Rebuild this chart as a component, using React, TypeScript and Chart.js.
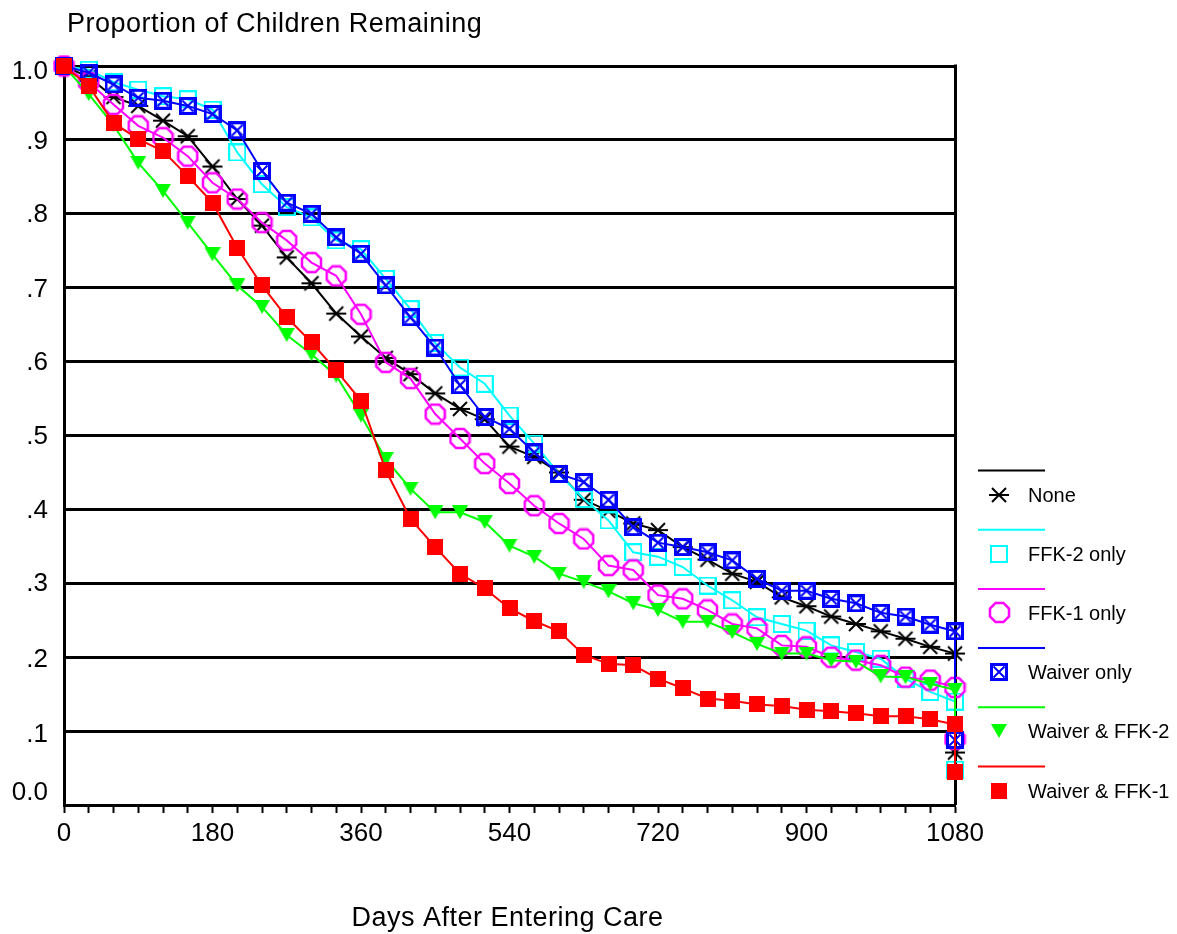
import React, { useEffect, useRef } from 'react';
import { Chart, registerables } from 'chart.js';

Chart.register(...registerables);

// ---- Data ----
const DAYS = [0, 30, 60, 90, 120, 150, 180, 210, 240, 270, 300, 330, 360, 390, 420, 450, 480, 510, 540, 570, 600, 630, 660, 690, 720, 750, 780, 810, 840, 870, 900, 930, 960, 990, 1020, 1050, 1080, 1080];

const NONE = [1.0, 0.985, 0.958, 0.946, 0.926, 0.905, 0.864, 0.820, 0.784, 0.741, 0.706, 0.665, 0.634, 0.605, 0.583, 0.557, 0.536, 0.522, 0.485, 0.471, 0.450, 0.413, 0.398, 0.381, 0.372, 0.349, 0.332, 0.313, 0.302, 0.281, 0.269, 0.255, 0.245, 0.235, 0.225, 0.214, 0.205, 0.071];
const FFK2_ONLY = [1.0, 0.995, 0.978, 0.968, 0.959, 0.955, 0.941, 0.883, 0.840, 0.809, 0.795, 0.764, 0.752, 0.712, 0.671, 0.625, 0.592, 0.570, 0.527, 0.489, 0.448, 0.414, 0.385, 0.342, 0.336, 0.322, 0.297, 0.277, 0.254, 0.245, 0.236, 0.216, 0.207, 0.198, 0.171, 0.153, 0.140, 0.048];
const FFK1_ONLY = [1.0, 0.978, 0.948, 0.919, 0.903, 0.878, 0.842, 0.820, 0.788, 0.764, 0.734, 0.716, 0.664, 0.599, 0.577, 0.529, 0.496, 0.462, 0.435, 0.405, 0.381, 0.360, 0.324, 0.318, 0.284, 0.279, 0.264, 0.245, 0.239, 0.216, 0.214, 0.200, 0.196, 0.189, 0.173, 0.169, 0.159, 0.089];
const WAIVER_ONLY = [1.0, 0.991, 0.975, 0.957, 0.953, 0.946, 0.935, 0.913, 0.858, 0.815, 0.800, 0.768, 0.746, 0.703, 0.660, 0.619, 0.568, 0.525, 0.509, 0.477, 0.448, 0.437, 0.413, 0.376, 0.355, 0.349, 0.342, 0.331, 0.306, 0.290, 0.290, 0.279, 0.273, 0.260, 0.255, 0.244, 0.235, 0.088];
const WAIVER_FFK2 = [1.0, 0.962, 0.920, 0.869, 0.831, 0.788, 0.745, 0.703, 0.674, 0.636, 0.610, 0.581, 0.527, 0.468, 0.428, 0.396, 0.396, 0.383, 0.351, 0.336, 0.313, 0.302, 0.289, 0.273, 0.264, 0.248, 0.248, 0.234, 0.218, 0.205, 0.205, 0.196, 0.194, 0.174, 0.173, 0.164, 0.156, 0.105];
const WAIVER_FFK1 = [1.0, 0.973, 0.923, 0.901, 0.885, 0.851, 0.815, 0.754, 0.703, 0.660, 0.626, 0.588, 0.547, 0.453, 0.387, 0.349, 0.313, 0.293, 0.266, 0.249, 0.235, 0.203, 0.191, 0.189, 0.171, 0.158, 0.144, 0.141, 0.136, 0.134, 0.129, 0.127, 0.124, 0.120, 0.120, 0.116, 0.109, 0.044];

const SERIES_NAMES = ['None', 'FFK-2 only', 'FFK-1 only', 'Waiver only', 'Waiver & FFK-2', 'Waiver & FFK-1'];
const X_TICK_LABELS = [0, 180, 360, 540, 720, 900, 1080];
const Y_TICK_VALUES = [0, 0.1, 0.2, 0.3, 0.4, 0.5, 0.6, 0.7, 0.8, 0.9, 1.0];
const Y_TICK_LABELS = ['0.0', '.1', '.2', '.3', '.4', '.5', '.6', '.7', '.8', '.9', '1.0'];
const CHART_TITLE = 'Proportion of Children Remaining';
const X_TITLE = 'Days After Entering Care';

// ---- Styles ----
const SERIES = [NONE, FFK2_ONLY, FFK1_ONLY, WAIVER_ONLY, WAIVER_FFK2, WAIVER_FFK1];
const COLORS = ['#000000', '#00FFFF', '#FF00FF', '#0000FF', '#00FF00', '#FF0000'];
const MARKER_KINDS = ['asterisk', 'square', 'octagon', 'boxx', 'tri', 'fsquare'];
const Y_LABEL_SHIFT = [-12, 4, 3, 1, 1, 1, 1, 2, 1, 2, 6];
const FONT = '"Liberation Sans", Arial, Helvetica, sans-serif';

function makeMarker(kind: string, color: string): HTMLCanvasElement {
  const c = document.createElement('canvas');
  let w = 18, h = 18;
  if (kind === 'asterisk') { w = 22; h = 18; }
  if (kind === 'octagon') { w = 23; h = 23; }
  if (kind === 'tri') { w = 16; h = 14; }
  if (kind === 'fsquare') { w = 16; h = 16; }
  c.width = w; c.height = h;
  const ctx = c.getContext('2d')!;
  ctx.strokeStyle = color;
  ctx.fillStyle = color;
  if (kind === 'asterisk') {
    ctx.lineWidth = 2;
    ctx.beginPath();
    ctx.moveTo(1, 9); ctx.lineTo(21, 9);
    ctx.moveTo(4, 2); ctx.lineTo(18, 16);
    ctx.moveTo(18, 2); ctx.lineTo(4, 16);
    ctx.stroke();
  } else if (kind === 'square') {
    ctx.lineWidth = 2;
    ctx.strokeRect(1, 1, 16, 16);
  } else if (kind === 'octagon') {
    ctx.lineWidth = 2.5;
    ctx.beginPath();
    const r = 10.3;
    for (let k = 0; k < 8; k++) {
      const a = Math.PI / 8 + (k * Math.PI) / 4;
      const px = 11.5 + r * Math.cos(a);
      const py = 11.5 + r * Math.sin(a);
      if (k === 0) ctx.moveTo(px, py); else ctx.lineTo(px, py);
    }
    ctx.closePath();
    ctx.stroke();
  } else if (kind === 'boxx') {
    ctx.lineWidth = 3;
    ctx.strokeRect(1.5, 1.5, 15, 15);
    ctx.lineWidth = 2;
    ctx.beginPath();
    ctx.moveTo(3.5, 3.5); ctx.lineTo(14.5, 14.5);
    ctx.moveTo(14.5, 3.5); ctx.lineTo(3.5, 14.5);
    ctx.stroke();
  } else if (kind === 'tri') {
    ctx.beginPath();
    ctx.moveTo(0, 0); ctx.lineTo(16, 0); ctx.lineTo(8, 14);
    ctx.closePath();
    ctx.fill();
  } else {
    ctx.fillRect(0, 0, 16, 16);
  }
  return c;
}

export default function App() {
  const ref = useRef<HTMLCanvasElement>(null);

  useEffect(() => {
    const canvas = ref.current!;
    const markers = MARKER_KINDS.map((k, i) => makeMarker(k, COLORS[i]));

    const decor = {
      id: 'decor',
      beforeDatasetsDraw(chart: any) {
        const { ctx, chartArea } = chart;
        ctx.save();
        ctx.strokeStyle = '#000';
        ctx.lineWidth = 3;
        ctx.beginPath();
        ctx.moveTo(chartArea.right + 0.5, chartArea.top - 1.5);
        ctx.lineTo(chartArea.right + 0.5, chartArea.bottom);
        ctx.stroke();
        ctx.restore();
      },
      afterDraw(chart: any) {
        const { ctx, chartArea } = chart;
        const yScale = chart.scales.y;
        ctx.save();
        ctx.fillStyle = '#000';

        // y tick labels
        ctx.font = `26px ${FONT}`;
        ctx.textAlign = 'right';
        ctx.textBaseline = 'middle';
        Y_TICK_VALUES.forEach((v, i) => {
          const py = yScale.getPixelForValue(v) + Y_LABEL_SHIFT[i];
          ctx.fillText(Y_TICK_LABELS[i], chartArea.left - 16, py);
        });

        ctx.textBaseline = 'alphabetic';
        ctx.font = `27px ${FONT}`;
        (ctx as any).letterSpacing = '0.5px';
        ctx.textAlign = 'left';
        ctx.fillText(CHART_TITLE, chartArea.left + 3, 32);
        ctx.textAlign = 'center';
        ctx.fillText(X_TITLE, (chartArea.left + chartArea.right) / 2 - 2, 926);
        (ctx as any).letterSpacing = '0px';

        // legend
        const lx0 = chartArea.right + 23;
        const lx1 = chartArea.right + 90;
        for (let i = 0; i < SERIES_NAMES.length; i++) {
          const ly = 470.5 + i * 59.2;
          ctx.strokeStyle = COLORS[i];
          ctx.lineWidth = 2;
          ctx.beginPath();
          ctx.moveTo(lx0, ly);
          ctx.lineTo(lx1, ly);
          ctx.stroke();
          const m = markers[i];
          ctx.drawImage(m, Math.round(lx0 + 21 - m.width / 2), Math.round(ly + 24 - m.height / 2));
          ctx.fillStyle = '#000';
          ctx.font = `20px ${FONT}`;
          ctx.textAlign = 'left';
          ctx.textBaseline = 'middle';
          ctx.fillText(SERIES_NAMES[i], lx0 + 50, ly + 25.5);
        }
        ctx.restore();
      },
    };

    const datasets = SERIES.map((vals, i) => ({
      label: SERIES_NAMES[i],
      data: DAYS.map((d, j) => ({ x: d, y: vals[j] })),
      borderColor: COLORS[i],
      backgroundColor: COLORS[i],
      borderWidth: 2,
      pointStyle: markers[i] as any,
      pointRadius: 8,
      pointHoverRadius: 8,
      pointBorderWidth: 0,
      tension: 0,
      clip: false as any,
      order: SERIES.length - i,
    }));

    const chart = new Chart(canvas, {
      type: 'line',
      data: { datasets },
      options: {
        animation: false,
        responsive: true,
        maintainAspectRatio: false,
        events: [],
        layout: { padding: { top: 66, right: 222, left: 0, bottom: 0 } },
        plugins: {
          legend: { display: false },
          tooltip: { enabled: false },
          title: { display: false },
        },
        scales: {
          x: {
            type: 'linear',
            min: 0,
            max: 1080,
            afterFit: (s: any) => { s.height = 129; },
            ticks: {
              stepSize: 30,
              autoSkip: false,
              maxRotation: 0,
              minRotation: 0,
              padding: 5,
              color: '#000',
              font: { size: 26, family: FONT },
              callback: (v: any) => (X_TICK_LABELS.includes(Number(v)) ? String(v) : ''),
            },
            grid: {
              display: true,
              drawOnChartArea: false,
              drawTicks: true,
              tickLength: 8,
              tickWidth: 2,
              tickColor: '#000',
            },
            border: { display: true, color: '#000', width: 3 },
          },
          y: {
            type: 'linear',
            min: 0,
            max: 1,
            afterFit: (s: any) => { s.width = 64; },
            ticks: {
              stepSize: 0.1,
              display: false,
            },
            grid: { color: '#000', lineWidth: 3, drawTicks: false },
            border: { display: true, color: '#000', width: 3 },
          },
        },
      },
      plugins: [decor],
    });

    return () => chart.destroy();
  }, []);

  return (
    <div style={{ position: 'absolute', left: 0, top: 0, width: 1177, height: 934, background: '#fff' }}>
      <canvas ref={ref} />
    </div>
  );
}
